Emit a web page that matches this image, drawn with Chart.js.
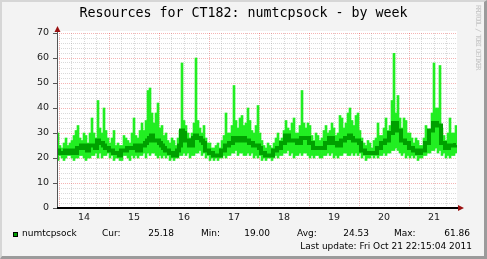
<!DOCTYPE html>
<html>
<head>
<meta charset="utf-8">
<script src="https://cdn.jsdelivr.net/npm/chart.js@4.4.0/dist/chart.umd.min.js"></script>
<style>
  body { margin: 0; background: #f3f3f3; }
  #wrap { position: relative; width: 487px; height: 259px; background: #f3f3f3; overflow: hidden;
          font-family: "DejaVu Sans", sans-serif; color: #000; }
  #frame { position: absolute; left: 0; top: 0; width: 487px; height: 259px; box-sizing: border-box;
           border-style: solid; border-width: 2px 3px 3px 2px;
           border-color: #d6d6d6 #9b9b9b #9b9b9b #d6d6d6; pointer-events: none; }
  canvas { position: absolute; left: 0; top: 0; }
  #title { position: absolute; left: 0; top: 6px; width: 487px; text-align: center; line-height: 1;
           font-family: "DejaVu Sans Mono", monospace; font-size: 13.3px; }
  #wm { position: absolute; left: 474px; top: 5px; writing-mode: vertical-rl; line-height: 1;
        font-family: "DejaVu Sans Mono", monospace; font-size: 7px; color: #c6c6c6; letter-spacing: -1.3px; }
  .t { position: absolute; white-space: nowrap; font-size: 9px; line-height: 1; }
  .num { text-align: right; width: 40px; }
  #swatch { position: absolute; left: 13px; top: 232px; width: 5px; height: 5px; box-sizing: border-box;
            background: #00a000; border: 1px solid #000; }
</style>
</head>
<body>
<div id="wrap">
  <canvas id="chart" width="487" height="259"></canvas>
  <div id="title">Resources for CT182: numtcpsock - by week</div>
  <div id="wm">RRDTOOL / TOBI OETIKER</div>
  <div id="swatch"></div>
  <div class="t" style="left:22px;top:229px">numtcpsock</div>
  <div class="t" style="left:102px;top:229px">Cur:</div>
  <div class="t num" style="left:134px;top:229px">25.18</div>
  <div class="t" style="left:201px;top:229px">Min:</div>
  <div class="t num" style="left:230px;top:229px">19.00</div>
  <div class="t" style="left:297px;top:229px">Avg:</div>
  <div class="t num" style="left:329px;top:229px">24.53</div>
  <div class="t" style="left:394px;top:229px">Max:</div>
  <div class="t num" style="left:430px;top:229px">61.86</div>
  <div class="t" style="right:15px;top:241.5px">Last update: Fri Oct 21 22:15:04 2011</div>
  <div id="frame"></div>
</div>
<script>
// numtcpsock over one week, consolidated columns (~0.96 h each)
const dayLabels = ['14', '15', '16', '17', '18', '19', '20', '21'];
const yTickLabels = [0, 10, 20, 30, 40, 50, 60, 70];

const maxValues = [
  30, 25, 24, 26, 28, 25, 26, 27, 29, 31, 33, 28, 27, 30, 29, 26, 30, 36, 30, 28,
  43, 32, 30, 40, 31, 28, 26, 28, 31, 25, 26, 25, 25, 29, 28, 27, 26, 30, 36, 29,
  28, 31, 34, 31, 35, 47, 48, 38, 34, 38, 42, 32, 33, 29, 30, 27, 26, 28, 27, 25,
  28, 31, 58, 35, 33, 30, 28, 30, 34, 60, 35, 32, 30, 33, 28, 26, 26, 24, 24, 25,
  26, 24, 27, 29, 38, 30, 30, 33, 49, 35, 32, 36, 37, 33, 34, 40, 35, 31, 30, 33,
  41, 30, 27, 25, 24, 26, 25, 24, 26, 28, 30, 27, 28, 31, 35, 32, 31, 34, 36, 30,
  30, 33, 47, 34, 32, 34, 33, 29, 27, 30, 29, 27, 28, 31, 33, 30, 31, 34, 32, 29,
  30, 37, 36, 32, 34, 38, 40, 35, 33, 37, 38, 31, 28, 26, 25, 27, 26, 24, 27, 28,
  34, 29, 29, 32, 36, 31, 33, 43, 61.86, 38, 45, 36, 32, 36, 35, 30, 30, 28, 26, 28,
  27, 25, 25, 28, 33, 29, 31, 38, 58, 40, 40, 57, 32, 29, 27, 30, 36, 30, 30, 33
];
const minValues = [
  19, 21, 20, 19, 20, 21, 21, 20, 19, 20, 20, 21, 21, 20, 19, 20, 20, 21, 21, 22,
  20, 22, 20, 21, 21, 22, 20, 21, 19, 20, 20, 19, 19, 21, 21, 20, 19, 21, 20, 21,
  20, 21, 21, 22, 20, 22, 21, 22, 22, 21, 20, 21, 20, 21, 20, 21, 19, 20, 19, 20,
  20, 21, 21, 22, 21, 22, 20, 21, 21, 22, 22, 23, 21, 22, 20, 21, 19, 20, 19, 20,
  19, 20, 20, 21, 20, 21, 21, 22, 22, 23, 21, 22, 22, 21, 21, 22, 21, 22, 20, 21,
  20, 21, 19, 20, 19, 20, 20, 19, 20, 21, 20, 21, 21, 22, 22, 23, 21, 22, 20, 21,
  21, 22, 21, 22, 22, 21, 20, 21, 20, 21, 21, 20, 20, 21, 21, 22, 21, 22, 20, 21,
  20, 21, 21, 22, 22, 21, 21, 22, 21, 22, 21, 22, 20, 21, 19, 20, 20, 21, 20, 21,
  20, 21, 21, 22, 21, 22, 22, 23, 23, 24, 23, 22, 21, 22, 20, 21, 20, 21, 20, 21,
  19, 20, 20, 21, 21, 22, 22, 23, 23, 24, 22, 23, 21, 22, 20, 21, 20, 21, 21, 22
];
const avgValues = [
  23, 22, 22, 22, 23, 23, 22, 23, 22, 22, 24, 24, 25, 25, 24, 23, 25, 25, 25, 24,
  27, 26, 26, 25, 24, 24, 23, 23, 22, 22, 22, 21, 23, 23, 23, 24, 24, 24, 24, 25,
  23, 23, 25, 25, 26, 27, 28, 29, 27, 27, 27, 26, 25, 24, 23, 23, 22, 22, 21, 21,
  23, 25, 31, 30, 27, 27, 25, 25, 28, 29, 28, 28, 27, 26, 23, 23, 22, 22, 21, 21,
  21, 21, 23, 23, 25, 25, 26, 26, 28, 28, 27, 27, 28, 28, 27, 27, 26, 26, 25, 25,
  25, 24, 22, 22, 21, 21, 21, 21, 23, 23, 24, 24, 26, 26, 29, 29, 27, 27, 27, 27,
  26, 26, 28, 28, 28, 28, 26, 26, 24, 24, 24, 24, 24, 24, 26, 26, 28, 28, 26, 26,
  25, 25, 27, 27, 28, 28, 29, 28, 27, 27, 27, 26, 23, 23, 22, 22, 22, 22, 22, 22,
  24, 24, 26, 26, 27, 27, 30, 30, 34, 34, 31, 31, 27, 27, 26, 26, 24, 24, 23, 23,
  22, 22, 23, 23, 26, 26, 31, 31, 34, 34, 33, 33, 26, 26, 24, 24, 25, 25, 25, 25.18
];

// time axis in hours, 0 = Oct 14 00:00
const startHour = -1;
const stepHours = 0.96;
const hours = minValues.map((_, i) => startHour + stepHours * (i + 0.5));

const bandData = hours.map((h, i) => ({ x: h, y: [minValues[i], maxValues[i]] }));
const avgData = hours.map((h, i) => ({ x: h, y: avgValues[i] }));

const MINOR = 'rgba(128,128,128,0.3)';
const MAJOR = 'rgba(225,40,40,0.35)';

const rrdFrame = {
  id: 'rrdFrame',
  beforeDraw(chart) {
    const { ctx, chartArea: a } = chart;
    ctx.save();
    ctx.fillStyle = '#ffffff';
    ctx.fillRect(a.left, a.top - 2, a.right - a.left, a.bottom - a.top + 2);
    ctx.restore();
  },
  afterDraw(chart) {
    const { ctx, chartArea: a } = chart;
    ctx.save();
    ctx.strokeStyle = '#555555';
    ctx.lineWidth = 1;
    ctx.beginPath();
    ctx.moveTo(a.left + 0.5, a.bottom);
    ctx.lineTo(a.left + 0.5, a.top - 3);
    ctx.stroke();
    ctx.strokeStyle = '#000000';
    ctx.lineWidth = 2;
    ctx.beginPath();
    ctx.moveTo(a.left, a.bottom);
    ctx.lineTo(a.right + 3, a.bottom);
    ctx.stroke();
    ctx.fillStyle = '#9a1010';
    ctx.beginPath();
    ctx.moveTo(a.left + 0.5, a.top - 7);
    ctx.lineTo(a.left - 2.5, a.top - 1);
    ctx.lineTo(a.left + 3.5, a.top - 1);
    ctx.closePath();
    ctx.fill();
    ctx.beginPath();
    ctx.moveTo(a.right + 7, a.bottom);
    ctx.lineTo(a.right + 1, a.bottom - 3);
    ctx.lineTo(a.right + 1, a.bottom + 3);
    ctx.closePath();
    ctx.fill();
    ctx.restore();
  }
};

new Chart(document.getElementById('chart'), {
  type: 'bar',
  data: {
    datasets: [
      {
        type: 'line',
        label: 'avg',
        data: avgData,
        borderColor: '#00a000',
        borderWidth: 4,
        stepped: 'middle',
        pointRadius: 0,
        fill: false,
        order: 0
      },
      {
        type: 'bar',
        label: 'numtcpsock',
        data: bandData,
        backgroundColor: '#22ee22',
        borderWidth: 0,
        barPercentage: 1,
        categoryPercentage: 1,
        order: 1
      }
    ]
  },
  options: {
    responsive: false,
    animation: false,
    layout: { padding: { left: 10, top: 33, right: 30, bottom: 31 } },
    plugins: { legend: { display: false }, tooltip: { enabled: false }, title: { display: false } },
    scales: {
      x: {
        type: 'linear',
        min: startHour,
        max: startHour + stepHours * minValues.length,
        offset: false,
        z: 1,
        afterFit: s => { s.height = 20; },
        afterBuildTicks: s => {
          const t = [];
          for (let v = 0; v < s.max; v += 6) t.push({ value: v });
          s.ticks = t;
        },
        grid: {
          offset: false,
          drawTicks: false,
          color: c => (c.tick && c.tick.value % 24 === 0) ? MAJOR : MINOR
        },
        border: { display: false, dash: [1, 1] },
        ticks: {
          autoSkip: false,
          maxRotation: 0,
          padding: 4,
          color: '#222',
          font: { family: 'DejaVu Sans', size: 9.5 },
          callback: v => (v % 24 === 12) ? dayLabels[(v - 12) / 24] : ''
        }
      },
      y: {
        min: 0,
        max: 70,
        z: 1,
        afterFit: s => { s.width = 47; },
        afterBuildTicks: s => {
          const t = [];
          for (let v = 0; v <= 70; v += 2) t.push({ value: v });
          s.ticks = t;
        },
        grid: {
          tickLength: 4,
          color: c => (c.tick && c.tick.value % 10 === 0) ? MAJOR : MINOR,
          tickColor: c => (c.tick && c.tick.value % 10 === 0) ? '#555' : 'rgba(0,0,0,0)'
        },
        border: { display: false, dash: [1, 1] },
        ticks: {
          autoSkip: false,
          padding: 4,
          color: '#222',
          font: { family: 'DejaVu Sans', size: 9.5 },
          callback: v => yTickLabels.includes(v) ? String(v) : ''
        }
      }
    }
  },
  plugins: [rrdFrame]
});
</script>
</body>
</html>
